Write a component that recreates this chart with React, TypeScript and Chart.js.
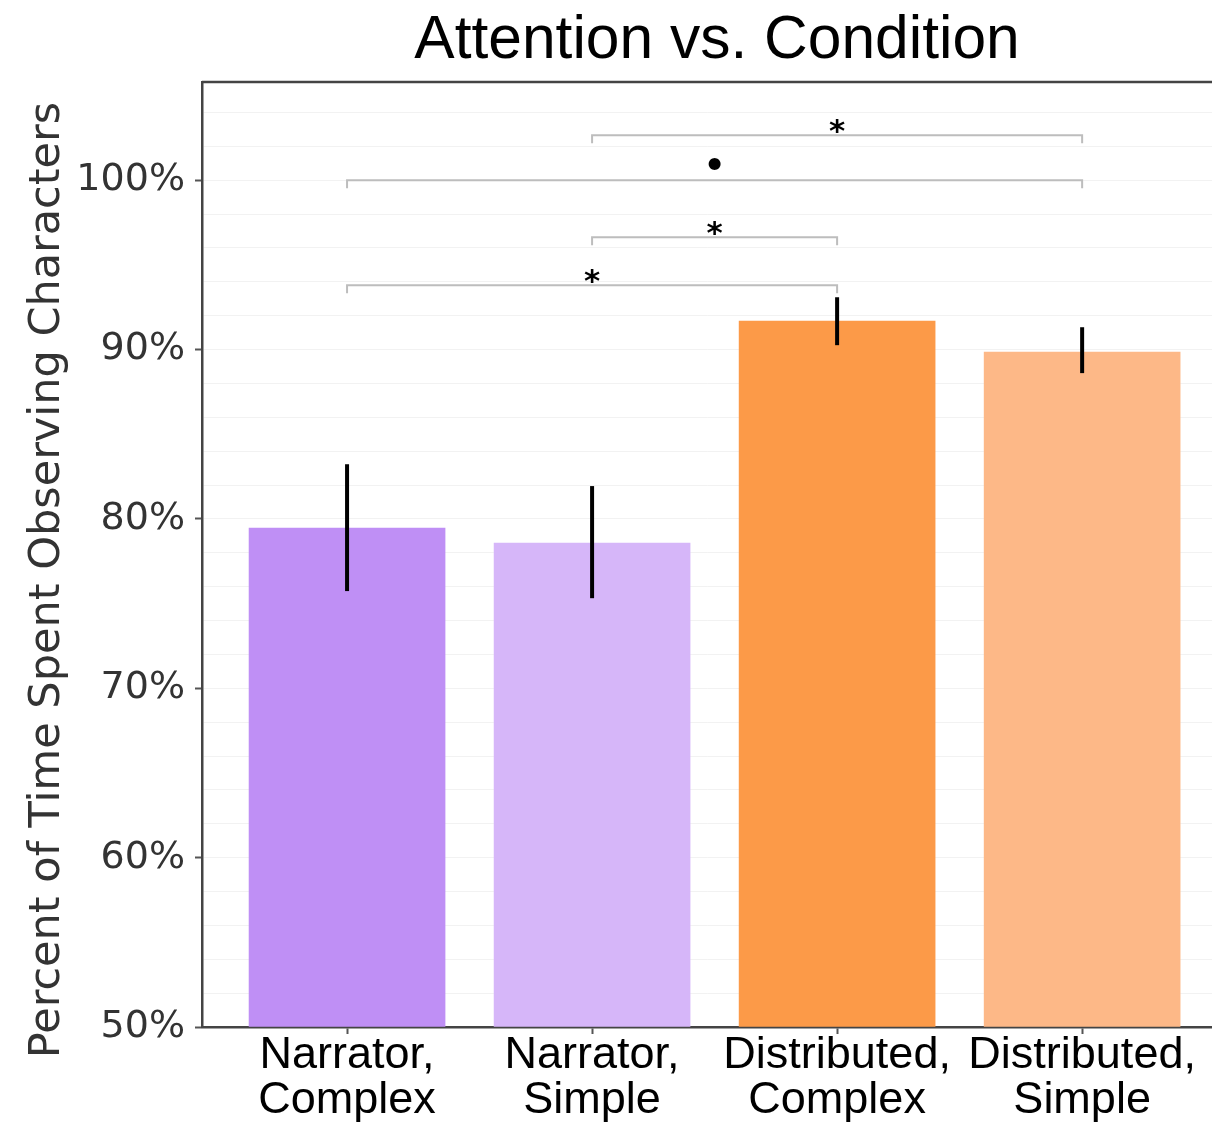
import React, { useEffect, useRef } from "react";
import { Chart, registerables } from "chart.js";

Chart.register(...registerables);

const categories = [
  ["Narrator,", "Complex"],
  ["Narrator,", "Simple"],
  ["Distributed,", "Complex"],
  ["Distributed,", "Simple"],
];
const meanValues = [79.46, 78.57, 91.68, 89.85];
const errorLow = [75.74, 75.32, 90.26, 88.61];
const errorHigh = [83.23, 81.94, 93.09, 91.32];
const barColors = ["#BF8FF5", "#D6B6F9", "#FC9A48", "#FDB887"];

const sigFrom = [0, 1, 0, 1];
const sigTo = [2, 2, 3, 3];
const sigLevel = [93.8, 96.64, 100.0, 102.66];
const sigLabel = ["*", "*", "•", "*"];

const yMin = 50;
const yMax = 105.8;
const xMin = -0.592;
const xMax = 3.53;

const titleText = "Attention vs. Condition";
const yTitleText = "Percent of Time Spent Observing Characters";

const overlayPlugin = {
  id: "overlay",
  afterDatasetsDraw(chart: any) {
    const { ctx, scales } = chart;
    const x = scales.x;
    const y = scales.y;
    ctx.save();
    // error bars
    ctx.strokeStyle = "#000";
    ctx.lineWidth = 4;
    ctx.lineCap = "butt";
    for (let i = 0; i < meanValues.length; i++) {
      const px = x.getPixelForValue(i);
      ctx.beginPath();
      ctx.moveTo(px, y.getPixelForValue(errorLow[i]));
      ctx.lineTo(px, y.getPixelForValue(errorHigh[i]));
      ctx.stroke();
    }
    // significance brackets
    for (let k = 0; k < sigFrom.length; k++) {
      const x1 = x.getPixelForValue(sigFrom[k]);
      const x2 = x.getPixelForValue(sigTo[k]);
      const py = y.getPixelForValue(sigLevel[k]);
      ctx.strokeStyle = "#bdbdbd";
      ctx.lineWidth = 2;
      ctx.beginPath();
      ctx.moveTo(x1, py + 8);
      ctx.lineTo(x1, py);
      ctx.lineTo(x2, py);
      ctx.lineTo(x2, py + 8);
      ctx.stroke();
      ctx.fillStyle = "#000";
      ctx.textAlign = "center";
      ctx.textBaseline = "alphabetic";
      const label = sigLabel[k];
      if (label === "*") {
        ctx.font = "bold 31px 'DejaVu Sans'";
        ctx.fillText(label, (x1 + x2) / 2, py + 6);
      } else {
        ctx.font = "bold 34px 'DejaVu Sans'";
        ctx.fillText(label, (x1 + x2) / 2, py - 3);
      }
    }
    ctx.restore();
  },
  afterDraw(chart: any) {
    const { ctx, chartArea } = chart;
    ctx.save();
    // top frame line
    ctx.strokeStyle = "#444";
    ctx.lineWidth = 2.5;
    ctx.beginPath();
    ctx.moveTo(chartArea.left, chartArea.top);
    ctx.lineTo(chartArea.right, chartArea.top);
    ctx.stroke();
    // main title
    ctx.fillStyle = "#000";
    ctx.font = "60.5px 'Liberation Sans', Arial, sans-serif";
    ctx.textAlign = "center";
    ctx.textBaseline = "alphabetic";
    ctx.fillText(titleText, 717, 58);
    // y axis title
    ctx.translate(59, 580);
    ctx.rotate(-Math.PI / 2);
    ctx.fillStyle = "#333";
    ctx.font = "43px 'DejaVu Sans'";
    ctx.fillText(yTitleText, 0, 0);
    ctx.restore();
  },
};

export default function App() {
  const canvasRef = useRef<HTMLCanvasElement | null>(null);

  useEffect(() => {
    if (!canvasRef.current) return;
    const chart = new Chart(canvasRef.current, {
      type: "bar",
      data: {
        datasets: [
          {
            data: meanValues.map((v, i) => ({ x: i, y: v })),
            backgroundColor: barColors,
            borderWidth: 0,
            barThickness: 196,
            base: yMin,
          } as any,
        ],
      },
      options: {
        responsive: false,
        animation: false,
        layout: { padding: { top: 82, left: 0, right: 0, bottom: 0 } },
        plugins: {
          legend: { display: false },
          tooltip: { enabled: false },
          title: { display: false },
        },
        scales: {
          x: {
            type: "linear",
            min: xMin,
            max: xMax,
            offset: false,
            afterBuildTicks: (scale: any) => {
              scale.ticks = categories.map((_, i) => ({ value: i }));
            },
            afterFit: (scale: any) => {
              scale.height = 98;
            },
            grid: {
              offset: false,
              drawOnChartArea: false,
              drawTicks: true,
              tickLength: 7,
              tickColor: "#555",
              tickWidth: 2,
            },
            border: { display: true, color: "#444", width: 2.5 },
            ticks: {
              autoSkip: false,
              maxRotation: 0,
              minRotation: 0,
              padding: 0,
              color: "#000",
              font: { family: "'Liberation Sans', Arial, sans-serif", size: 45, lineHeight: 0.98 },
              callback: (value: any) => categories[Math.round(Number(value))] as any,
            },
          },
          y: {
            type: "linear",
            min: yMin,
            max: yMax,
            z: 1,
            afterFit: (scale: any) => {
              scale.width = 202;
            },
            grid: {
              color: "rgba(0,0,0,0.05)",
              lineWidth: 1,
              drawTicks: true,
              tickLength: 7,
              tickWidth: 2,
              tickColor: (ctx: any) =>
                ctx.tick && Math.round(ctx.tick.value) % 10 === 0 ? "#555" : "rgba(0,0,0,0)",
            },
            border: { display: true, color: "#444", width: 2.5 },
            ticks: {
              stepSize: 2,
              autoSkip: false,
              includeBounds: false,
              padding: 10,
              color: "#333",
              font: { family: "'DejaVu Sans'", size: 38 },
              callback: (value: any) => {
                const v = Number(value);
                return Math.round(v) % 10 === 0 ? `${Math.round(v)}%` : "";
              },
            },
          },
        },
      },
      plugins: [overlayPlugin],
    } as any);
    return () => chart.destroy();
  }, []);

  return (
    <div style={{ position: "absolute", left: 0, top: 0, width: 1212, height: 1125, background: "#fff" }}>
      <canvas ref={canvasRef} width={1212} height={1125} style={{ display: "block" }} />
    </div>
  );
}
